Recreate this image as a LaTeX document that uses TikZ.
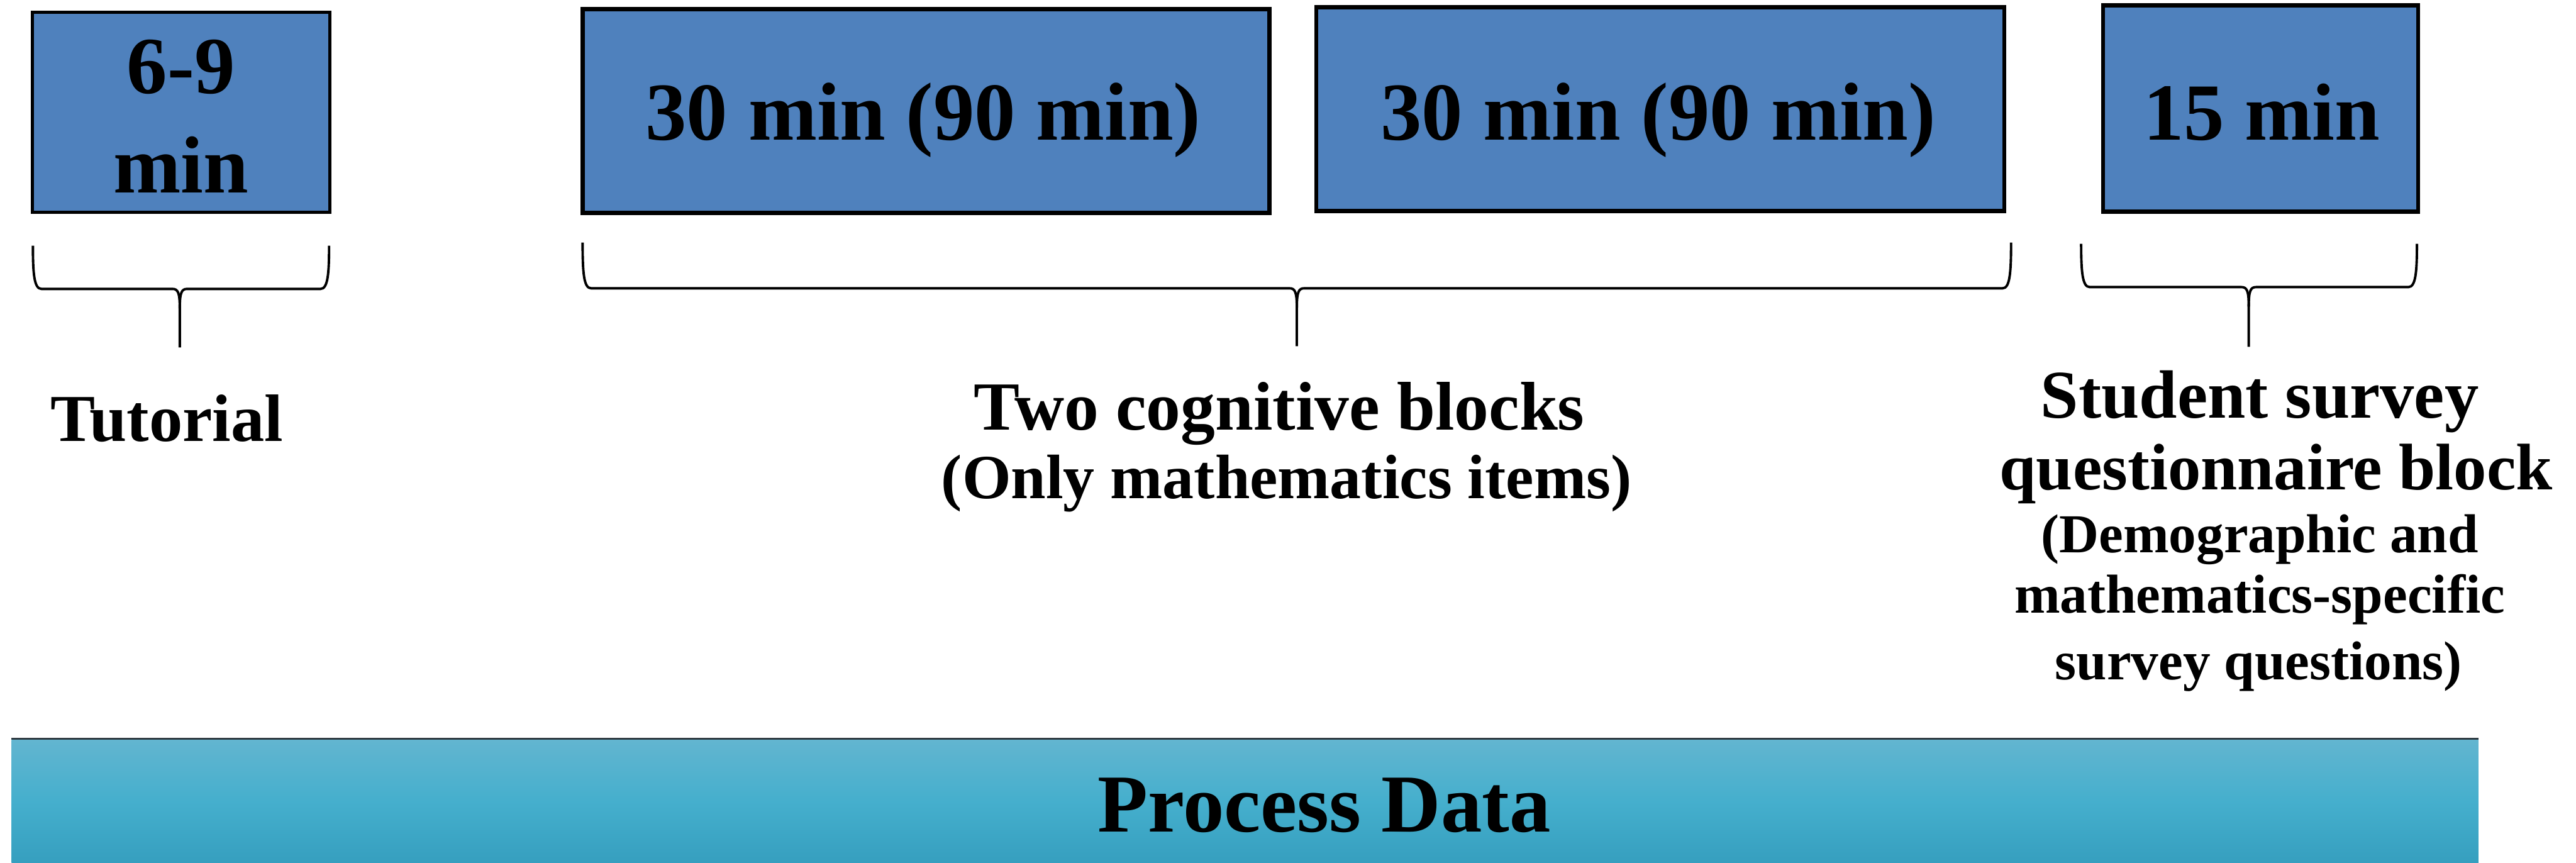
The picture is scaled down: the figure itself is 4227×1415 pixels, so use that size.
\documentclass[tikz,border=0pt]{standalone}
\usepackage{fontspec}
\setmainfont{Liberation Serif}
\definecolor{boxblue}{HTML}{4F81BD}
\definecolor{bartop}{HTML}{62B5D0}
\definecolor{barmid}{HTML}{45AFCD}
\definecolor{barbot}{HTML}{369FBF}
\definecolor{barline}{HTML}{2F3B42}
\newcommand\mybrace[6]{%
  \draw[brc] (#1,#4) .. controls (#1,#5-25) and (#1+2,#5) .. (#1+14,#5) -- (#3-12,#5) .. controls (#3-3,#5) and (#3,#5+6) .. (#3,#5+32) -- (#3,#6);
  \draw[brc] (#2,#4) .. controls (#2,#5-25) and (#2-2,#5) .. (#2-14,#5) -- (#3+12,#5) .. controls (#3+3,#5) and (#3,#5+6) .. (#3,#5+32);
}
\begin{document}
\begin{tikzpicture}[x=0.1pt,y=-0.1pt,
  blk/.style={draw=black, fill=boxblue, line width=0.7pt, inner sep=0pt, outer sep=0pt},
  brc/.style={draw=black, line width=0.4pt},
  txt/.style={inner sep=0pt, anchor=base, font=\bfseries\fontsize{#1}{#1}\selectfont},
  txt/.default=11
]
\useasboundingbox (0,0) rectangle (4227,1415);

% boxes
\node[blk, line width=0.5pt, minimum width=48.8pt, minimum height=32.8pt] (b1) at (297,184) {};
\node[blk, minimum width=112.7pt, minimum height=33.4pt] (b2) at (1519.5,182) {};
\node[blk, minimum width=112.9pt, minimum height=33.4pt] (b3) at (2724.5,179) {};
\node[blk, minimum width=51.7pt, minimum height=33.8pt] (b4) at (3709.5,178) {};

% box texts
\node[txt=13.3] (t1a) at (297,153) {6-9};
\node[txt=13.3] (t1b) at (297,316) {min};
\node[txt=13.5] (t2) at (1515,230) {30 min (90 min)};
\node[txt=13.5] (t3) at (2721,230) {30 min (90 min)};
\node[txt=13.3] (t4) at (3711,230) {15 min};

% braces
\mybrace{54}{540}{295}{403}{474}{570}
\mybrace{956}{3300}{2128}{398}{473}{568}
\mybrace{3415}{3966}{3690}{400}{471}{569}

% labels
\node[txt=11] (l1) at (274,724) {Tutorial};
\node[txt=11.3] (l2a) at (2099,705) {Two cognitive blocks};
\node[txt=10.3] (l2b) at (2111,818) {(Only mathematics items)};
\node[txt=11.2] (l3a) at (3708,686) {Student survey};
\node[txt=10.8] (l3b) at (3735,803) {questionnaire block};
\node[txt=9] (l3c) at (3708,907) {(Demographic and};
\node[txt=9] (l3d) at (3708,1006) {mathematics-specific};
\node[txt=9] (l3e) at (3706,1115) {survey questions)};

% process data bar
\shade[top color=bartop, bottom color=barbot, middle color=barmid] (19,1214) rectangle (4067,1415);
\draw[barline, line width=0.3pt] (19,1212) -- (4067,1212);
\node[txt=13.5] (pd) at (2173,1365) {Process Data};
\end{tikzpicture}
\end{document}
